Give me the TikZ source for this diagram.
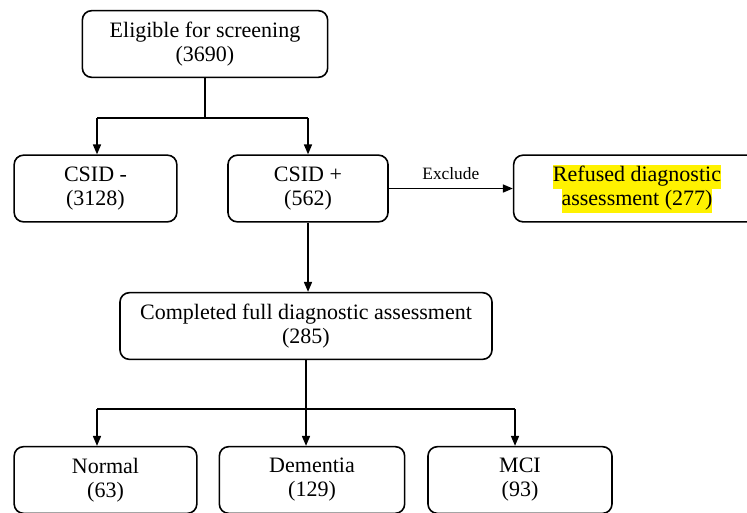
\documentclass[tikz,border=0pt]{standalone}
\usepackage{fontspec}
\setmainfont{Liberation Serif}
\usetikzlibrary{arrows.meta,positioning,calc}

\begin{document}
\begin{tikzpicture}[x=0.75pt,y=0.75pt,>={Triangle[length=7.5pt,width=6pt]},line width=1.2pt,font=\fontsize{16.5}{18}\selectfont]
\useasboundingbox (0,0) rectangle (747,-512);
\tikzstyle{box}=[draw,rounded corners=7pt,minimum height=50pt,align=center,inner sep=2pt]
\setlength{\fboxsep}{0pt}
\node[box,minimum width=184pt] (elig) at (205,-44) {Eligible for screening\\ (3690)};
\node[box,minimum width=122pt] (csidneg) at (95.5,-188.5) {CSID -\\ (3128)};
\node[box,minimum width=120pt] (csidpos) at (308,-188.5) {CSID +\\ (562)};
\node[box,minimum width=185pt] (refused) at (637,-188.5) {\colorbox{yellow}{\strut Refused diagnostic}\\ \colorbox{yellow}{\strut assessment (277)}};
\node[box,minimum width=279pt] (compl) at (306,-326) {Completed full diagnostic assessment\\ (285)};
\node[box,minimum width=137pt] (normal) at (105.5,-480) {Normal\\ (63)};
\node[box,minimum width=139pt] (dement) at (312,-480) {Dementia\\ (129)};
\node[box,minimum width=138pt] (mci) at (520,-480) {MCI\\ (93)};
\coordinate (tl) at (97,-118);
\coordinate (tr) at (308,-118);
\coordinate (bl) at (97,-409);
\coordinate (br) at (515,-409);
\draw (elig.south) -- (elig.south |- tl);
\draw (tl) -- (tr);
\draw[->] (tl) -- (tl |- csidneg.north);
\draw[->] (tr) -- (csidpos.north);
\draw[->] (csidpos) -- node[above=3pt,font=\fontsize{13}{15}\selectfont]{Exclude} (refused);
\draw[->] (csidpos.south) -- (csidpos.south |- compl.north);
\draw (compl.south) -- (compl.south |- bl);
\draw (bl) -- (br);
\draw[->] (bl) -- (bl |- normal.north);
\draw[->] (compl.south |- bl) -- (dement.north -| compl.south);
\draw[->] (br) -- (br |- mci.north);
\end{tikzpicture}
\end{document}
